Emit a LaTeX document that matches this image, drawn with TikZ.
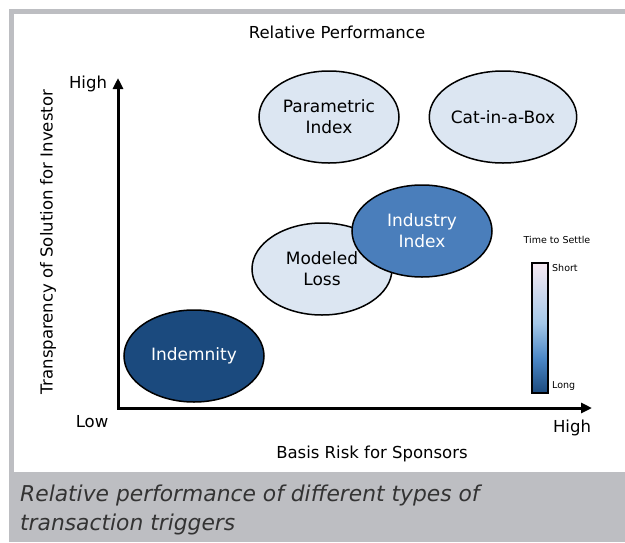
\documentclass[tikz,border=0pt]{standalone}
\usepackage{fontspec}
\setmainfont{DejaVu Sans}
\usetikzlibrary{shapes.geometric}
\usetikzlibrary{arrows.meta}
\definecolor{framegray}{HTML}{BDBEC2}
\definecolor{paleblue}{HTML}{DCE6F2}
\definecolor{midblue}{HTML}{4A7EBB}
\definecolor{deepblue}{HTML}{1B4A7E}
\definecolor{captiongray}{HTML}{333333}
\definecolor{shortpink}{HTML}{F6EAF2}
\definecolor{skyblue}{HTML}{A4C8E8}
\definecolor{barblue}{HTML}{4A86C5}
\pgfdeclareverticalshading{settlebar}{100bp}{color(0bp)=(deepblue); color(25bp)=(deepblue); color(38bp)=(barblue); color(52bp)=(skyblue); color(75bp)=(shortpink); color(100bp)=(shortpink)}

\begin{document}
\begin{tikzpicture}[x=1pt,y=-1pt,
  trigger/.style={ellipse,draw=black,line width=1.5pt,minimum width=140pt,minimum height=92pt,inner sep=0pt,align=center,font=\fontsize{17}{21}\selectfont},
  lbl/.style={font=\fontsize{16.5}{20}\selectfont},
  tiny/.style={font=\fontsize{9.5}{11}\selectfont},
  axisline/.style={line width=3pt,{Triangle[width=10pt,length=11pt]}-{Triangle[width=10pt,length=11pt]}}]
\useasboundingbox (0,0) rectangle (625,542);
\fill[framegray] (9,9) rectangle (625,542);
\fill[white] (14,14) rectangle (625,472);

\node[lbl] (title) at (337,32) {Relative Performance};

\coordinate (ytip) at (118,78);
\coordinate (xtip) at (592,408);
\draw[axisline] (ytip) |- (xtip);

\node[lbl] (yhigh) at (88,84) {High};
\node[lbl] (ylow) at (92,422) {Low};
\node[lbl] (xhigh) at (572,428) {High};
\node[lbl] (xname) at (372,454) {Basis Risk for Sponsors};
\node[lbl,rotate=90] (yname) at (48,242) {Transparency of Solution for Investor};

\node[trigger,fill=paleblue] (param) at (329,117) {Parametric\\Index};
\node[trigger,fill=paleblue] (catbox) at (503,117) {Cat-in-a-Box};
\node[trigger,fill=paleblue] (modeled) at (322,269) {Modeled\\Loss};
\node[trigger,fill=midblue,text=white] (industry) at (422,231) {Industry\\Index};
\node[trigger,fill=deepblue,text=white] (indemnity) at (194,356) {Indemnity};

\node[tiny] (settle) at (557,240) {Time to Settle};
\node[draw,line width=1.5pt,shading=settlebar,minimum width=16pt,minimum height=130pt,inner sep=0pt] (bar) at (540,328) {};
\node[tiny,anchor=west,inner sep=0pt] (short) at (552,268) {Short};
\node[tiny,anchor=west,inner sep=0pt] (long) at (552,386) {Long};

\node[anchor=base west,inner sep=0pt,align=left,text=captiongray,font=\fontsize{21.8}{29}\selectfont\itshape] (caption) at (20,530) {Relative performance of different types of\\transaction triggers};
\end{tikzpicture}
\end{document}
